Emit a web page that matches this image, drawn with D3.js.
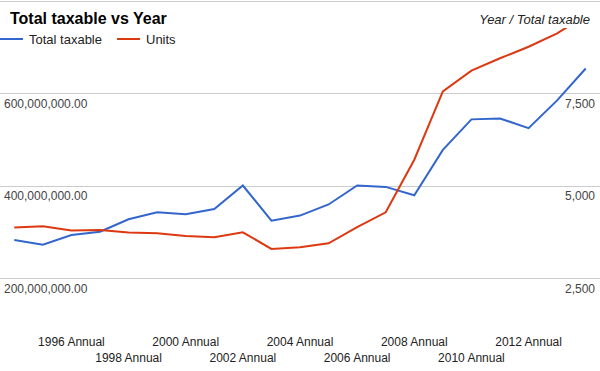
<html>
    <head>
        <script src="https://d3js.org/d3.v7.min.js"></script>
        <style>
            body{ margin:0; background:#fff; }
            svg text{ font-family: Arial, 'Liberation Sans', sans-serif; }
        </style>
    </head>
    <body>
        <svg id="svg" width="600" height="371"></svg>
        <script>
            // data
            var years = ['1994','1995','1996','1997','1998','1999','2000','2001','2002','2003','2004',
                         '2005','2006','2007','2008','2009','2010','2011','2012','2013','2014'];
            var totalTaxable = [282e6,272e6,293e6,300e6,327e6,342e6,338e6,349e6,400e6,324e6,335e6,
                                359e6,400e6,397e6,379e6,477e6,543e6,545e6,524e6,584e6,653e6];
            var units = [3862,3897,3781,3800,3727,3708,3638,3600,3735,3287,3331,
                         3438,3875,4275,5696,7543,8104,8438,8751,9113,9600];
            var leftTicks = [200e6,400e6,600e6];
            var rightTicks = [2500,5000,7500];
            var gridTicks = [0,200e6,400e6,600e6,800e6];

            var svg = d3.select("svg");
            var width = +svg.attr("width");
            var height = +svg.attr("height");
            var blue = '#3366cc', red = '#dc3912';

            var x = d3.scaleBand().domain(years).range([0,width]).padding(0);
            var yL = d3.scaleLinear().domain([0,800e6]).range([370.5,0.5]);
            var yR = d3.scaleLinear().domain([0,10000]).range([370.5,0.5]);

            // gridlines
            svg.selectAll("line.grid").data(gridTicks).enter().append("line")
                .attr("class","grid")
                .attr("x1",0).attr("x2",width)
                .attr("y1",function(d){return Math.round(yL(d))+0.5;})
                .attr("y2",function(d){return Math.round(yL(d))+0.5;})
                .attr("stroke",function(d){return d==0?'#333':'#ccc';})
                .attr("stroke-width",1);

            svg.append("clipPath").attr("id","plot").append("rect")
                .attr("x",0).attr("y",0).attr("width",width).attr("height",371);

            var cx = function(d,i){return x(years[i])+x.bandwidth()/2;};
            var lineL = d3.line().x(cx).y(function(d){return yL(d);});
            var lineR = d3.line().x(cx).y(function(d){return yR(d);});

            svg.append("path").attr("d",lineL(totalTaxable))
                .attr("fill","none").attr("stroke",blue).attr("stroke-width",2)
                .attr("clip-path","url(#plot)");
            svg.append("path").attr("d",lineR(units))
                .attr("fill","none").attr("stroke",red).attr("stroke-width",2)
                .attr("clip-path","url(#plot)");

            // left axis labels
            var fmtL = d3.format(",.2f");
            svg.selectAll("text.left").data(leftTicks).enter().append("text")
                .attr("x",4).attr("y",function(d){return yL(d)+14.5;})
                .attr("font-size",12).attr("fill","#444")
                .text(function(d){return fmtL(d);});

            // right axis labels
            var fmtR = d3.format(",");
            svg.selectAll("text.right").data(rightTicks).enter().append("text")
                .attr("x",595).attr("y",function(d){return yR(d)+14.5;})
                .attr("text-anchor","end")
                .attr("font-size",12).attr("fill","#444")
                .text(function(d){return fmtR(d);});

            // category labels, every other year, staggered
            var shown = years.filter(function(d){return +d>=1996 && +d<=2012 && (+d)%2==0;});
            svg.selectAll("text.cat").data(shown).enter().append("text")
                .attr("x",function(d){return x(d)+x.bandwidth()/2;})
                .attr("y",function(d,i){return i%2==0?346:362;})
                .attr("text-anchor","middle")
                .attr("font-size",12).attr("fill","#222")
                .text(function(d){return d+" Annual";});

            // axis title with white box over the line end
            var axTitle = svg.append("text")
                .attr("x",590).attr("y",24)
                .attr("text-anchor","end")
                .attr("font-size",13).attr("font-style","italic").attr("fill","#222")
                .text("Year / Total taxable");
            var bb = axTitle.node().getBBox();
            svg.insert("rect","text")
                .attr("x",bb.x-2).attr("y",bb.y).attr("width",bb.width+10).attr("height",bb.height+1)
                .attr("fill","#fff");
            axTitle.raise();

            // title
            svg.append("text").attr("x",10).attr("y",24)
                .attr("font-size",16).attr("font-weight","bold").attr("fill","#000")
                .text("Total taxable vs Year");

            // legend
            var legend = [{name:"Total taxable",color:blue,x:0},{name:"Units",color:red,x:117}];
            var lg = svg.selectAll("g.legend").data(legend).enter().append("g")
                .attr("transform",function(d){return "translate("+d.x+",39)";});
            lg.append("line").attr("x1",0).attr("x2",23).attr("y1",0).attr("y2",0)
                .attr("stroke",function(d){return d.color;}).attr("stroke-width",2);
            lg.append("text").attr("x",29).attr("y",5)
                .attr("font-size",13).attr("fill","#222")
                .text(function(d){return d.name;});
        </script>
    </body>
</html>
